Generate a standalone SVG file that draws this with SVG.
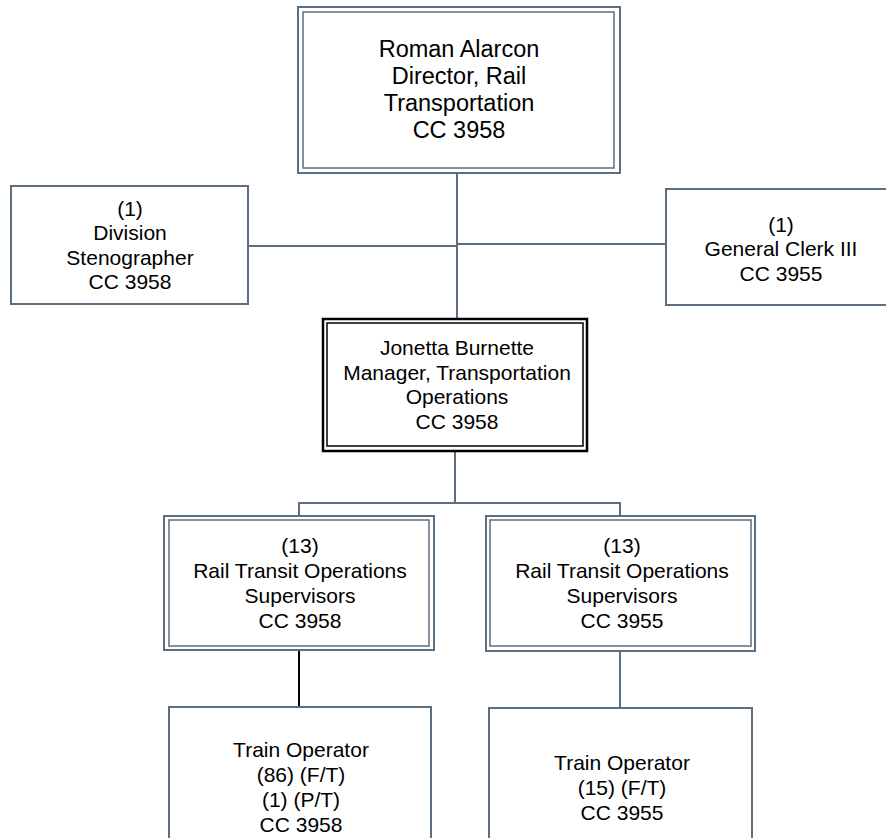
<svg xmlns="http://www.w3.org/2000/svg" width="886" height="838" viewBox="0 0 886 838">
<style>
text{font-family:"Liberation Sans",Arial,sans-serif;font-size:21px;fill:#000;text-anchor:middle}
.big{font-size:23.5px}
.b{fill:#fff;stroke:#5c6f80;stroke-width:2}
.bi{fill:none;stroke:#5c6f80;stroke-width:1.5}
.k{fill:#fff;stroke:#000;stroke-width:2.5}
.ki{fill:none;stroke:#000;stroke-width:1.5}
.c{fill:none;stroke:#5c6f80;stroke-width:2}
.ck{fill:none;stroke:#000;stroke-width:2}
</style>
<rect width="886" height="838" fill="#fff"/>
<g id="connectors">
<path class="c" d="M457,173V319M248,246H457M457,244H666"/>
<path class="c" d="M455,451V503M299,516V503H620V516"/>
<path class="ck" d="M299,650V707"/>
<path class="c" d="M620,651V708"/>
</g>
<g id="director">
<rect class="b" x="298" y="7" width="322" height="166"/>
<rect class="bi" x="303" y="12" width="311" height="156"/>
<text class="big" x="459" y="57">Roman Alarcon</text>
<text class="big" x="459" y="84">Director, Rail</text>
<text class="big" x="459" y="111">Transportation</text>
<text class="big" x="459" y="138">CC 3958</text>
</g>
<g id="stenographer">
<rect class="b" x="11" y="186" width="237" height="118"/>
<text x="130" y="216">(1)</text>
<text x="130" y="240">Division</text>
<text x="130" y="265">Stenographer</text>
<text x="130" y="289">CC 3958</text>
</g>
<g id="clerk">
<rect class="b" x="666" y="189" width="234" height="116"/>
<text x="781" y="232">(1)</text>
<text x="781" y="256">General Clerk III</text>
<text x="781" y="281">CC 3955</text>
</g>
<g id="manager">
<rect class="k" x="323" y="319" width="264" height="132"/>
<rect class="ki" x="327" y="323" width="256" height="123"/>
<text x="457" y="355">Jonetta Burnette</text>
<text x="457" y="380">Manager, Transportation</text>
<text x="457" y="404">Operations</text>
<text x="457" y="429">CC 3958</text>
</g>
<g id="supervisors3958">
<rect class="b" x="164" y="516" width="270" height="134"/>
<rect class="bi" x="169" y="520" width="260" height="126"/>
<text x="300" y="553">(13)</text>
<text x="300" y="578">Rail Transit Operations</text>
<text x="300" y="603">Supervisors</text>
<text x="300" y="628">CC 3958</text>
</g>
<g id="supervisors3955">
<rect class="b" x="486" y="516" width="269" height="135"/>
<rect class="bi" x="490" y="520" width="261" height="126"/>
<text x="622" y="553">(13)</text>
<text x="622" y="578">Rail Transit Operations</text>
<text x="622" y="603">Supervisors</text>
<text x="622" y="628">CC 3955</text>
</g>
<g id="operators3958">
<rect class="b" x="169" y="707" width="262" height="150"/>
<text x="301" y="757">Train Operator</text>
<text x="301" y="782">(86) (F/T)</text>
<text x="301" y="807">(1) (P/T)</text>
<text x="301" y="832">CC 3958</text>
</g>
<g id="operators3955">
<rect class="b" x="489" y="708" width="263" height="150"/>
<text x="622" y="770">Train Operator</text>
<text x="622" y="795">(15) (F/T)</text>
<text x="622" y="820">CC 3955</text>
</g>
</svg>
